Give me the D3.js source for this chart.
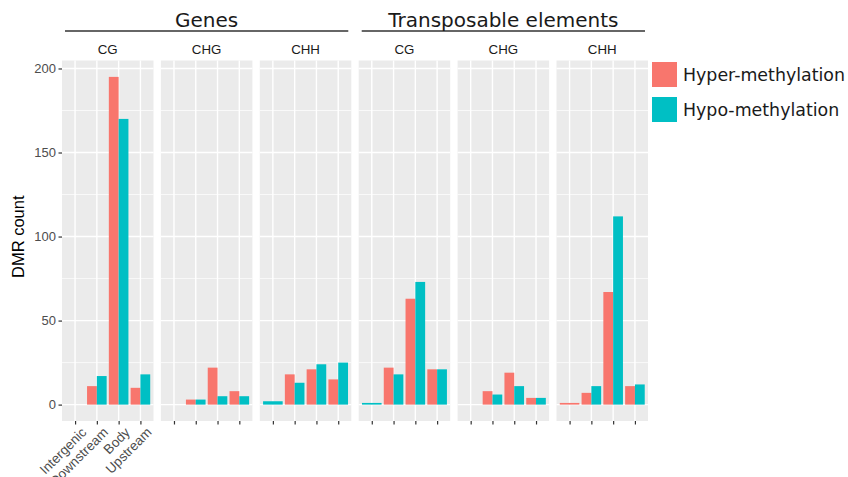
<!DOCTYPE html>
<html>
<head>
<meta charset="utf-8">
<script src="https://cdn.jsdelivr.net/npm/d3@7"></script>
<style>
  body { margin: 0; background: #fff; }
  svg { display: block; }
</style>
</head>
<body>
<svg width="848" height="477"></svg>
<script>
// data
const categories = ["Intergenic", "Downstream", "Body", "Upstream"];
const groups = ["Genes", "Transposable elements"];
const contexts = ["CG", "CHG", "CHH"];
const seriesNames = ["Hyper-methylation", "Hypo-methylation"];
const seriesColors = ["#F8766D", "#00BFC4"];
const yTicks = [0, 50, 100, 150, 200];

// one row per facet (group x context), values by category; null = no bar
const hyper = [
  [null, 11, 195, 10],   // Genes CG
  [null, 3, 22, 8],      // Genes CHG
  [null, 18, 21, 15],    // Genes CHH
  [null, 22, 63, 21],    // TE CG
  [null, 8, 19, 4],      // TE CHG
  [1, 7, 67, 11]         // TE CHH
];
const hypo = [
  [null, 17, 170, 18],
  [null, 3, 5, 5],
  [2, 13, 24, 25],
  [1, 18, 73, 21],
  [null, 6, 11, 4],
  [null, 11, 112, 12]
];

const svg = d3.select("svg");
const margin = {top: 60.5, left: 62, right: 648, bottom: 421};

const facets = [];
groups.forEach((g, gi) => contexts.forEach((c, ci) => facets.push({group: g, context: c, idx: gi * 3 + ci})));

const fx = d3.scaleBand()
  .domain(facets.map(d => d.idx))
  .range([margin.left, margin.right])
  .paddingInner(0.075)
  .paddingOuter(0);
const bw = fx.bandwidth();

const maxVal = d3.max(hyper.concat(hypo).flat());
const y = d3.scaleLinear()
  .domain([-maxVal * 0.05, maxVal * 1.05])
  .range([margin.bottom, margin.top]);

// x inside a panel, ggplot style discrete expansion
const x = d3.scaleLinear().domain([0.4, categories.length + 0.6]).range([0, bw]);
const barW = 0.9;

const minor = [25, 75, 125, 175];

facets.forEach((f, k) => {
  const g = svg.append("g").attr("transform", "translate(" + fx(f.idx) + ",0)");
  g.append("rect")
    .attr("x", 0).attr("y", margin.top)
    .attr("width", bw).attr("height", margin.bottom - margin.top)
    .attr("fill", "#EBEBEB");

  g.selectAll(".minor").data(minor).enter().append("line")
    .attr("x1", 0).attr("x2", bw)
    .attr("y1", d => y(d)).attr("y2", d => y(d))
    .attr("stroke", "#fff").attr("stroke-width", 0.7);
  g.selectAll(".major").data(yTicks).enter().append("line")
    .attr("x1", 0).attr("x2", bw)
    .attr("y1", d => y(d)).attr("y2", d => y(d))
    .attr("stroke", "#fff").attr("stroke-width", 1.4);
  g.selectAll(".vmajor").data(categories).enter().append("line")
    .attr("x1", (d, i) => x(i + 1)).attr("x2", (d, i) => x(i + 1))
    .attr("y1", margin.top).attr("y2", margin.bottom)
    .attr("stroke", "#fff").attr("stroke-width", 1.4);

  // bars, dodged like position_dodge
  const bars = [];
  categories.forEach((c, i) => {
    const vals = [hyper[k][i], hypo[k][i]];
    const present = vals.map((v, s) => ({v, s})).filter(d => d.v != null);
    const w = barW / present.length;
    present.forEach((d, j) => {
      const x0 = (i + 1) - barW / 2 + j * w;
      bars.push({x0, x1: x0 + w, v: d.v, s: d.s});
    });
  });
  g.selectAll(".bar").data(bars).enter().append("rect")
    .attr("x", d => x(d.x0))
    .attr("width", d => x(d.x1) - x(d.x0))
    .attr("y", d => y(d.v))
    .attr("height", d => y(0) - y(d.v))
    .attr("fill", d => seriesColors[d.s]);

  // x axis ticks
  const xa = g.append("g").attr("transform", "translate(0," + margin.bottom + ")")
    .call(d3.axisBottom(x).tickValues([1, 2, 3, 4]).tickSize(3.5).tickSizeOuter(0).tickFormat(""));
  xa.select(".domain").remove();
  xa.selectAll("line").attr("stroke", "#333").attr("stroke-width", 1.2);

  if (k === 0) {
    g.selectAll(".xlab").data(categories).enter().append("text")
      .attr("transform", (d, i) => "translate(" + (x(i + 1) + 5) + "," + (margin.bottom + 5) + ") rotate(-45)")
      .attr("text-anchor", "end")
      .attr("dy", "0.75em")
      .style("font-family", "Liberation Sans, Arial, sans-serif")
      .style("font-size", "13.5px")
      .attr("fill", "#4D4D4D")
      .text(d => d);
  }

  // strip label
  g.append("text")
    .attr("x", bw / 2).attr("y", 53.5)
    .attr("text-anchor", "middle")
    .style("font-family", "Liberation Sans, Arial, sans-serif")
    .style("font-size", "13.3px")
    .attr("fill", "#1A1A1A")
    .text(f.context);
});

// y axis
const ya = svg.append("g").attr("transform", "translate(" + margin.left + ",0)")
  .call(d3.axisLeft(y).tickValues(yTicks).tickSize(3.5).tickPadding(2.5));
ya.select(".domain").remove();
ya.selectAll("line").attr("stroke", "#333").attr("stroke-width", 1.2);
ya.selectAll("text")
  .style("font-family", "Liberation Sans, Arial, sans-serif")
  .style("font-size", "13px")
  .attr("fill", "#4D4D4D");

svg.append("text")
  .attr("transform", "translate(24," + ((margin.top + margin.bottom) / 2 - 4) + ") rotate(-90)")
  .attr("text-anchor", "middle")
  .style("font-family", "Liberation Sans, Arial, sans-serif")
  .style("font-size", "16.5px")
  .attr("fill", "#000")
  .text("DMR count");

// group headers with a line underneath
groups.forEach((gname, gi) => {
  const left = fx(gi * 3) + 3;
  const right = fx(gi * 3 + 2) + bw - 3;
  svg.append("line")
    .attr("x1", left).attr("x2", right)
    .attr("y1", 31).attr("y2", 31)
    .attr("stroke", "#333").attr("stroke-width", 1.3);
  svg.append("text")
    .attr("x", (left + right) / 2).attr("y", 26.5)
    .attr("text-anchor", "middle")
    .style("font-family", "DejaVu Sans, Verdana, sans-serif")
    .style("font-size", "20px")
    .attr("fill", "#1A1A1A")
    .text(gname);
});

// legend
const leg = svg.append("g").attr("transform", "translate(652,62)");
seriesNames.forEach((s, i) => {
  leg.append("rect")
    .attr("x", 0).attr("y", i * 35)
    .attr("width", 25).attr("height", 25)
    .attr("fill", seriesColors[i]);
  leg.append("text")
    .attr("x", 31).attr("y", i * 35 + 12.5)
    .attr("dy", "0.35em")
    .style("font-family", "DejaVu Sans, Verdana, sans-serif")
    .style("font-size", "17.4px")
    .attr("fill", "#1A1A1A")
    .text(s);
});
</script>
</body>
</html>
